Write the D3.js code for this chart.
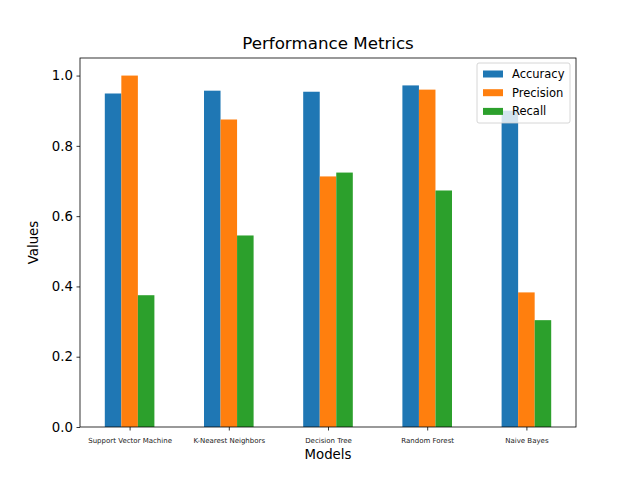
<!DOCTYPE html>
<html>
<head>
<meta charset="utf-8">
<script src="https://cdn.jsdelivr.net/npm/d3@7"></script>
<style>
  body { margin: 0; background: #fff; }
  text { font-family: "DejaVu Sans", sans-serif; fill: #000; }
</style>
</head>
<body>
<script>
const models = ['Support Vector Machine', 'K-Nearest Neighbors', 'Decision Tree', 'Random Forest', 'Naive Bayes']
const metrics = ['Accuracy', 'Precision', 'Recall']
const accuracy = [0.949, 0.957, 0.954, 0.972, 0.900]
const precision = [1.0, 0.875, 0.713, 0.960, 0.383]
const recall = [0.375, 0.545, 0.724, 0.673, 0.304]
const colors = ['#1f77b4', '#ff7f0e', '#2ca02c']
const yTicks = [0.0, 0.2, 0.4, 0.6, 0.8, 1.0]

const series = [accuracy, precision, recall]

const W = 640, H = 480
const m = { left: 80, right: 64, top: 58, bottom: 53 }

const svg = d3.select('body').append('svg')
  .attr('width', W).attr('height', H)

// pandas-style bar positions: group width 0.5, xlim [-0.5, n-0.5]
const x = d3.scaleLinear()
  .domain([-0.5, models.length - 0.5])
  .range([m.left, W - m.right])
const y = d3.scaleLinear()
  .domain([0, 1.05])
  .range([H - m.bottom, m.top])

const bw = 0.5 / metrics.length

series.forEach((vals, si) => {
  svg.append('g')
    .selectAll('rect')
    .data(vals)
    .join('rect')
    .attr('x', (d, i) => x(i - 0.25 + si * bw))
    .attr('width', x(bw) - x(0))
    .attr('y', d => y(d))
    .attr('height', d => y(0) - y(d))
    .attr('fill', colors[si])
})

// axes
const xAxis = svg.append('g')
  .attr('transform', `translate(0,${H - m.bottom})`)
  .call(d3.axisBottom(x).tickValues(d3.range(models.length))
    .tickFormat(i => models[i]).tickSize(3.5).tickSizeOuter(0))
xAxis.selectAll('text').attr('font-size', 7).attr('dy', '1.3em').style('fill', '#222')
xAxis.selectAll('line').attr('stroke', '#000').attr('stroke-width', 0.8)
xAxis.select('.domain').remove()

const yAxis = svg.append('g')
  .attr('transform', `translate(${m.left},0)`)
  .call(d3.axisLeft(y).tickValues(yTicks).tickFormat(d3.format('.1f'))
    .tickSize(3.5).tickPadding(3.5).tickSizeOuter(0))
yAxis.selectAll('text').attr('font-size', 13.3).style('fill', '#000')
yAxis.selectAll('line').attr('stroke', '#000').attr('stroke-width', 0.8)
yAxis.select('.domain').remove()

// frame
svg.append('rect')
  .attr('x', m.left).attr('y', m.top)
  .attr('width', W - m.left - m.right)
  .attr('height', H - m.top - m.bottom)
  .attr('fill', 'none').attr('stroke', '#000').attr('stroke-width', 0.8)

svg.append('text')
  .attr('x', (m.left + W - m.right) / 2).attr('y', m.top - 9)
  .attr('text-anchor', 'middle').attr('font-size', 16.7)
  .text('Performance Metrics')

svg.append('text')
  .attr('x', (m.left + W - m.right) / 2).attr('y', 459)
  .attr('text-anchor', 'middle').attr('font-size', 13.3)
  .text('Models')

svg.append('text')
  .attr('transform', `translate(38,${(m.top + H - m.bottom) / 2}) rotate(-90)`)
  .attr('text-anchor', 'middle').attr('font-size', 13.3)
  .text('Values')

// legend
const lg = svg.append('g').attr('transform', 'translate(477,63)')
lg.append('rect')
  .attr('width', 93).attr('height', 60).attr('rx', 2)
  .attr('fill', 'rgba(255,255,255,0.8)').attr('stroke', '#ccc').attr('stroke-width', 0.8)
metrics.forEach((name, i) => {
  const row = lg.append('g').attr('transform', `translate(6,${11 + i * 18.7})`)
  row.append('rect').attr('x', 0).attr('y', -3.5).attr('width', 20).attr('height', 7)
    .attr('fill', colors[i])
  row.append('text').attr('x', 29).attr('y', 4).attr('font-size', 11.5).text(name)
})
</script>
</body>
</html>
